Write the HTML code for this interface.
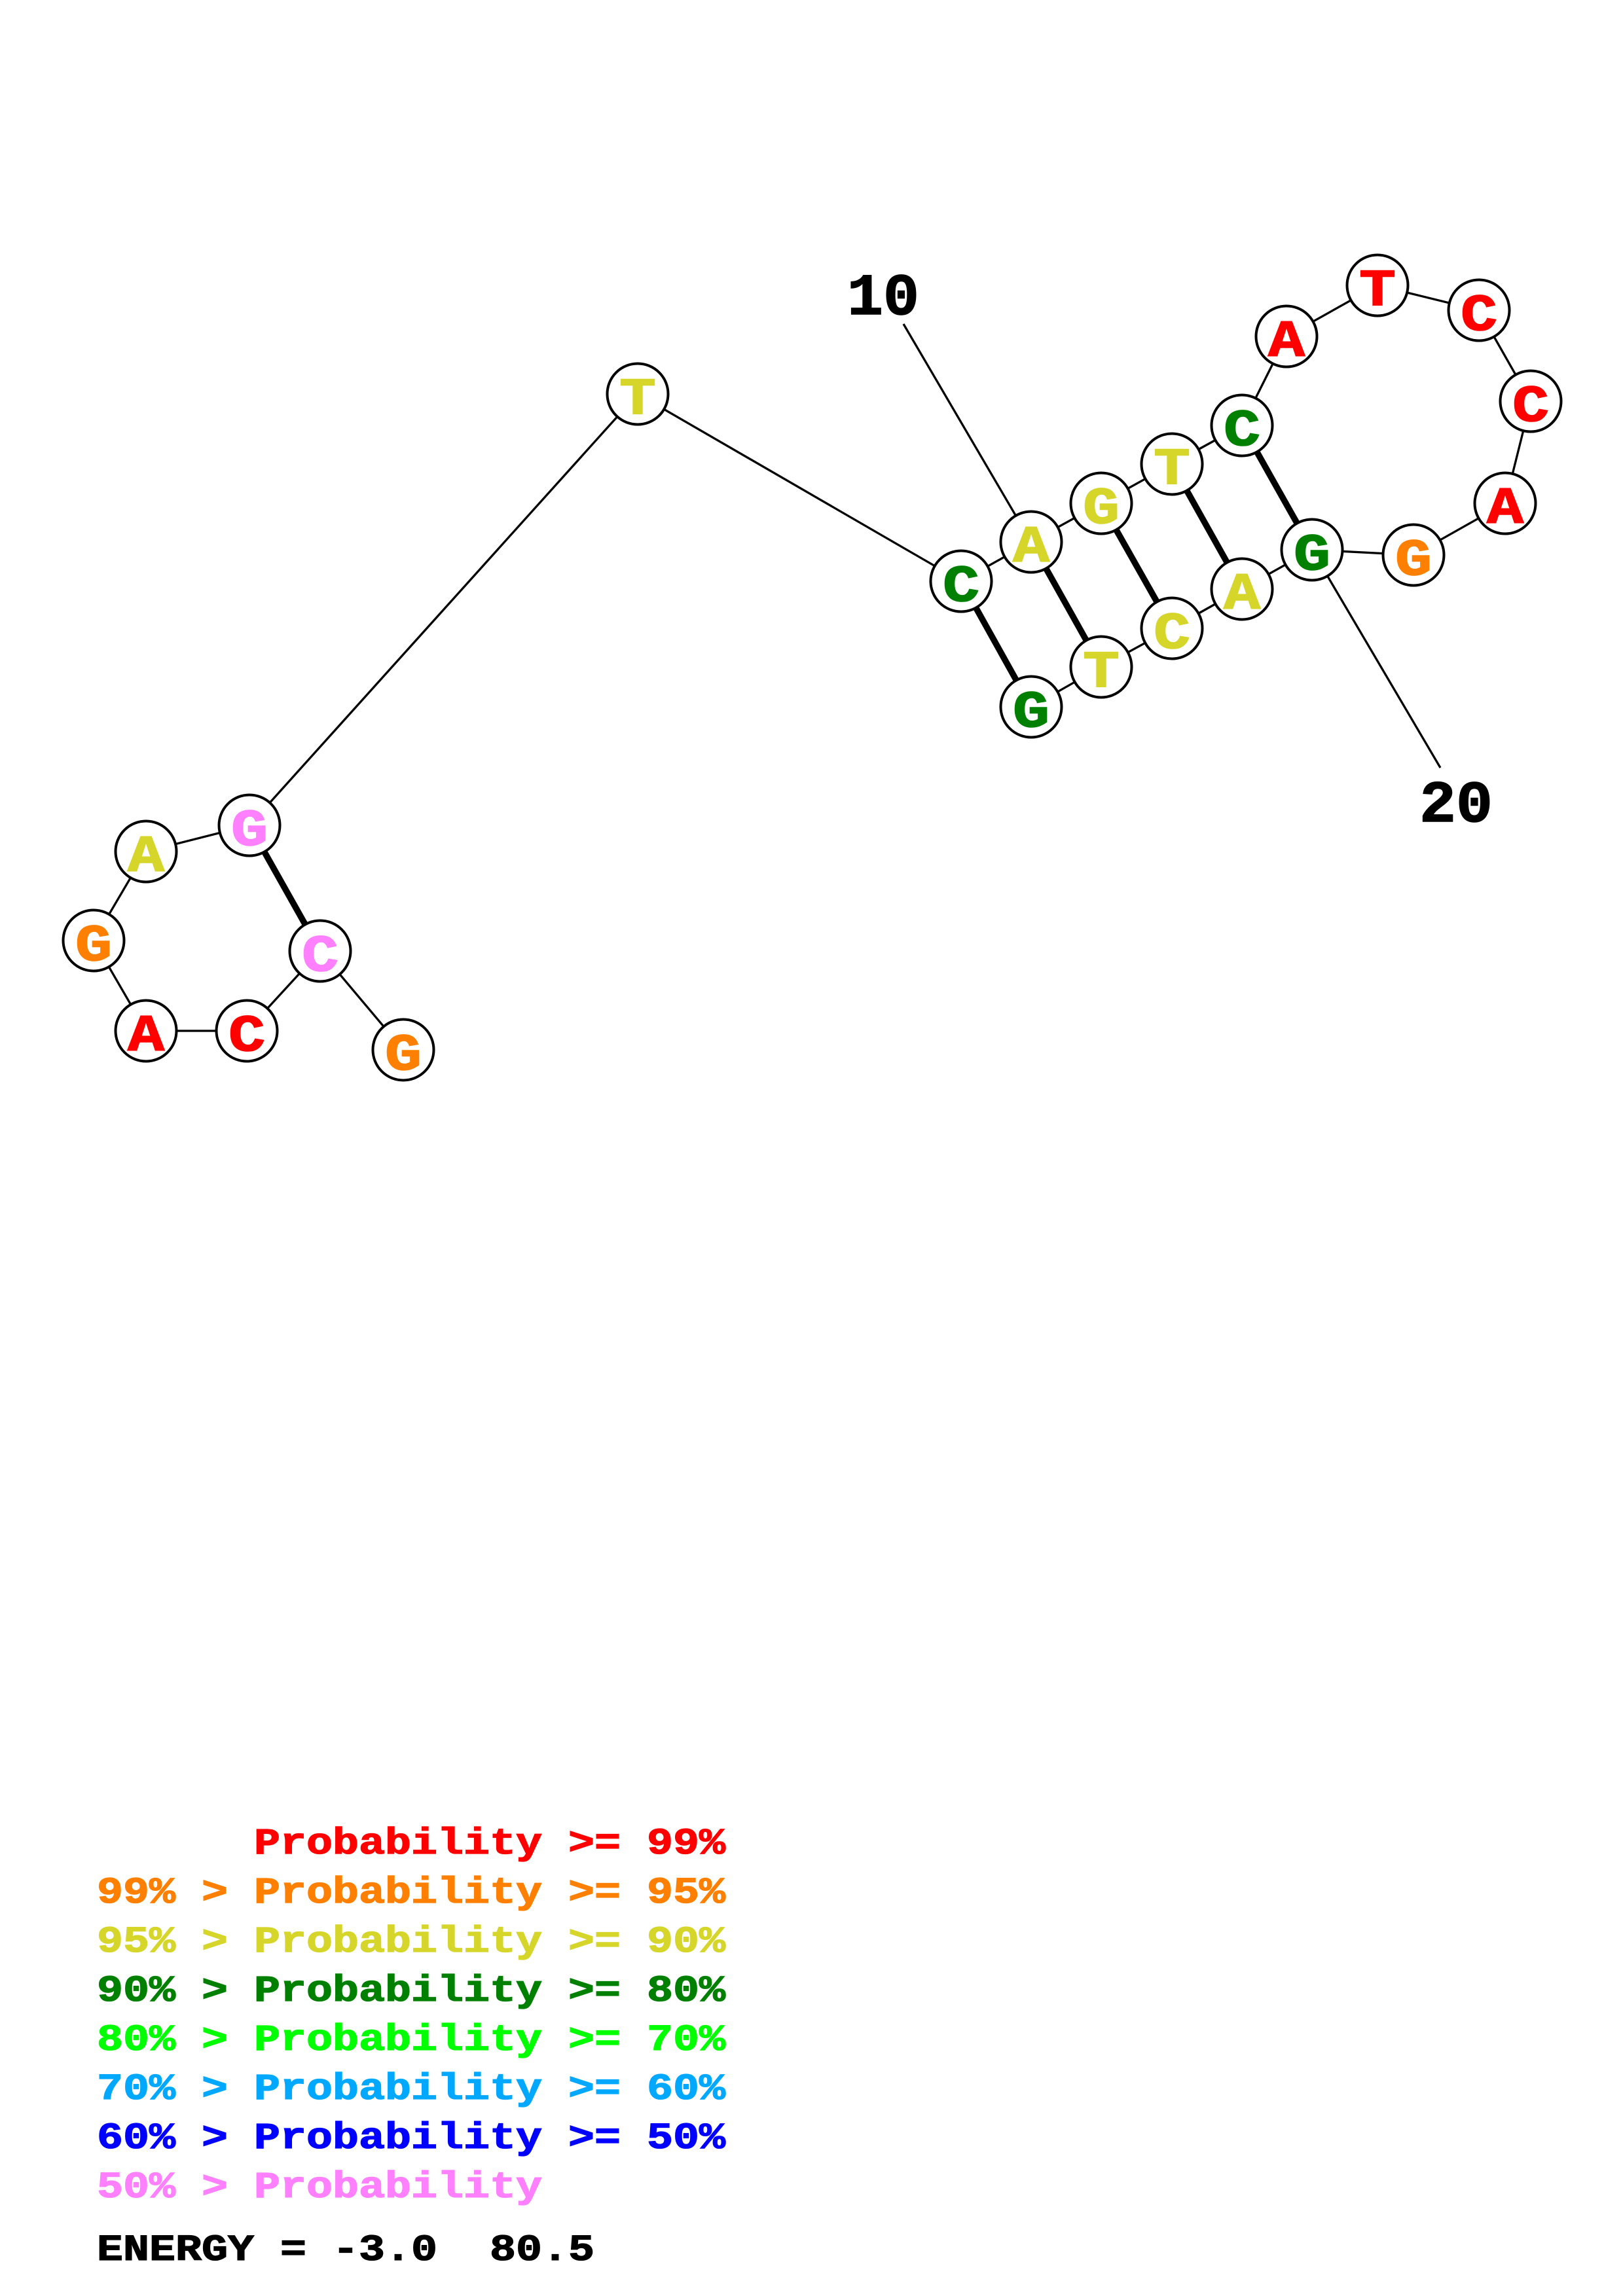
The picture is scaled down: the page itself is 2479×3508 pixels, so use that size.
<!DOCTYPE html>
<html>
<head>
<meta charset="utf-8">
<style>
  html,body{margin:0;padding:0;background:#fff;}
  svg{display:block;}
  .nt{font-family:"Liberation Mono","DejaVu Sans Mono",monospace;font-weight:bold;font-size:80px;stroke-width:1.6px;}
  .num{font-family:"Liberation Mono","DejaVu Sans Mono",monospace;font-weight:bold;font-size:90px;fill:#000;stroke:#000;stroke-width:1.5px;}
  .lg{font-family:"Liberation Mono","DejaVu Sans Mono",monospace;font-weight:bold;font-size:57px;stroke-width:1.3px;}
</style>
</head>
<body>
<svg width="2479" height="3508" viewBox="0 0 2479 3508" xmlns="http://www.w3.org/2000/svg">
  <rect x="0" y="0" width="2479" height="3508" fill="#fff"/>

  <!-- number label lines -->
  <g stroke="#000" stroke-width="3.3" fill="none">
    <line x1="1380" y1="495" x2="1575" y2="828"/>
    <line x1="2004" y1="840" x2="2200" y2="1173"/>
  </g>

  <!-- backbone thin lines -->
  <g stroke="#000" stroke-width="3.3" fill="none">
    <polyline points="616,1604 489,1453 377,1575 223,1575 143,1437 223,1301 381,1261 974,602 1468,888 1575,828 1682,769 1790,709 1897,650 1965,514 2104,436 2259,474 2338,613 2299,769 2159,848 2004,840 1897,900 1790,960 1682,1019 1575,1080"/>
  </g>

  <!-- base pair thick lines -->
  <g stroke="#000" stroke-width="9.5" fill="none">
    <line x1="489" y1="1453" x2="381" y2="1261"/>
    <line x1="1468" y1="888" x2="1575" y2="1080"/>
    <line x1="1575" y1="828" x2="1682" y2="1019"/>
    <line x1="1682" y1="769" x2="1790" y2="960"/>
    <line x1="1790" y1="709" x2="1897" y2="900"/>
    <line x1="1897" y1="650" x2="2004" y2="840"/>
  </g>

  <!-- nodes -->
  <g stroke="#000" stroke-width="4" fill="#fff">
    <circle cx="616" cy="1604" r="46.5"/>
    <circle cx="489" cy="1453" r="46.5"/>
    <circle cx="377" cy="1575" r="46.5"/>
    <circle cx="223" cy="1575" r="46.5"/>
    <circle cx="143" cy="1437" r="46.5"/>
    <circle cx="223" cy="1301" r="46.5"/>
    <circle cx="381" cy="1261" r="46.5"/>
    <circle cx="974" cy="602" r="46.5"/>
    <circle cx="1468" cy="888" r="46.5"/>
    <circle cx="1575" cy="828" r="46.5"/>
    <circle cx="1682" cy="769" r="46.5"/>
    <circle cx="1790" cy="709" r="46.5"/>
    <circle cx="1897" cy="650" r="46.5"/>
    <circle cx="1965" cy="514" r="46.5"/>
    <circle cx="2104" cy="436" r="46.5"/>
    <circle cx="2259" cy="474" r="46.5"/>
    <circle cx="2338" cy="613" r="46.5"/>
    <circle cx="2299" cy="769" r="46.5"/>
    <circle cx="2159" cy="848" r="46.5"/>
    <circle cx="2004" cy="840" r="46.5"/>
    <circle cx="1897" cy="900" r="46.5"/>
    <circle cx="1790" cy="960" r="46.5"/>
    <circle cx="1682" cy="1019" r="46.5"/>
    <circle cx="1575" cy="1080" r="46.5"/>
  </g>

  <!-- nucleotide letters (x = cx - 28, width 56) -->
  <g class="nt">
    <text x="588" y="1634" textLength="56" lengthAdjust="spacingAndGlyphs" fill="#FF8000" stroke="#FF8000">G</text>
    <text x="461" y="1483" textLength="56" lengthAdjust="spacingAndGlyphs" fill="#FF80FF" stroke="#FF80FF">C</text>
    <text x="349" y="1605" textLength="56" lengthAdjust="spacingAndGlyphs" fill="#FF0000" stroke="#FF0000">C</text>
    <text x="195" y="1605" textLength="56" lengthAdjust="spacingAndGlyphs" fill="#FF0000" stroke="#FF0000">A</text>
    <text x="115" y="1467" textLength="56" lengthAdjust="spacingAndGlyphs" fill="#FF8000" stroke="#FF8000">G</text>
    <text x="195" y="1331" textLength="56" lengthAdjust="spacingAndGlyphs" fill="#D5D52A" stroke="#D5D52A">A</text>
    <text x="353" y="1291" textLength="56" lengthAdjust="spacingAndGlyphs" fill="#FF80FF" stroke="#FF80FF">G</text>
    <text x="946" y="632" textLength="56" lengthAdjust="spacingAndGlyphs" fill="#D5D52A" stroke="#D5D52A">T</text>
    <text x="1440" y="918" textLength="56" lengthAdjust="spacingAndGlyphs" fill="#008000" stroke="#008000">C</text>
    <text x="1547" y="858" textLength="56" lengthAdjust="spacingAndGlyphs" fill="#D5D52A" stroke="#D5D52A">A</text>
    <text x="1654" y="799" textLength="56" lengthAdjust="spacingAndGlyphs" fill="#D5D52A" stroke="#D5D52A">G</text>
    <text x="1762" y="739" textLength="56" lengthAdjust="spacingAndGlyphs" fill="#D5D52A" stroke="#D5D52A">T</text>
    <text x="1869" y="680" textLength="56" lengthAdjust="spacingAndGlyphs" fill="#008000" stroke="#008000">C</text>
    <text x="1937" y="544" textLength="56" lengthAdjust="spacingAndGlyphs" fill="#FF0000" stroke="#FF0000">A</text>
    <text x="2076" y="466" textLength="56" lengthAdjust="spacingAndGlyphs" fill="#FF0000" stroke="#FF0000">T</text>
    <text x="2231" y="504" textLength="56" lengthAdjust="spacingAndGlyphs" fill="#FF0000" stroke="#FF0000">C</text>
    <text x="2310" y="643" textLength="56" lengthAdjust="spacingAndGlyphs" fill="#FF0000" stroke="#FF0000">C</text>
    <text x="2271" y="799" textLength="56" lengthAdjust="spacingAndGlyphs" fill="#FF0000" stroke="#FF0000">A</text>
    <text x="2131" y="878" textLength="56" lengthAdjust="spacingAndGlyphs" fill="#FF8000" stroke="#FF8000">G</text>
    <text x="1976" y="870" textLength="56" lengthAdjust="spacingAndGlyphs" fill="#008000" stroke="#008000">G</text>
    <text x="1869" y="930" textLength="56" lengthAdjust="spacingAndGlyphs" fill="#D5D52A" stroke="#D5D52A">A</text>
    <text x="1762" y="990" textLength="56" lengthAdjust="spacingAndGlyphs" fill="#D5D52A" stroke="#D5D52A">C</text>
    <text x="1654" y="1049" textLength="56" lengthAdjust="spacingAndGlyphs" fill="#D5D52A" stroke="#D5D52A">T</text>
    <text x="1547" y="1110" textLength="56" lengthAdjust="spacingAndGlyphs" fill="#008000" stroke="#008000">G</text>
  </g>

  <!-- number labels -->
  <text class="num" x="1294" y="480" textLength="110" lengthAdjust="spacingAndGlyphs">10</text>
  <text class="num" x="2168" y="1255" textLength="112" lengthAdjust="spacingAndGlyphs">20</text>

  <!-- legend -->
  <g class="lg">
    <!-- row 1 -->
    <g fill="#FF0000" stroke="#FF0000">
      <text x="388" y="2832" textLength="440" lengthAdjust="spacingAndGlyphs">Probability</text>
      <text x="868" y="2832" textLength="80" lengthAdjust="spacingAndGlyphs">&gt;=</text>
      <text x="988" y="2832" textLength="120" lengthAdjust="spacingAndGlyphs">99%</text>
    </g>
    <!-- row 2 -->
    <g fill="#FF8000" stroke="#FF8000">
      <text x="148" y="2907" textLength="120" lengthAdjust="spacingAndGlyphs">99%</text>
      <text x="308" y="2907" textLength="40" lengthAdjust="spacingAndGlyphs">&gt;</text>
      <text x="388" y="2907" textLength="440" lengthAdjust="spacingAndGlyphs">Probability</text>
      <text x="868" y="2907" textLength="80" lengthAdjust="spacingAndGlyphs">&gt;=</text>
      <text x="988" y="2907" textLength="120" lengthAdjust="spacingAndGlyphs">95%</text>
    </g>
    <!-- row 3 -->
    <g fill="#D5D52A" stroke="#D5D52A">
      <text x="148" y="2982" textLength="120" lengthAdjust="spacingAndGlyphs">95%</text>
      <text x="308" y="2982" textLength="40" lengthAdjust="spacingAndGlyphs">&gt;</text>
      <text x="388" y="2982" textLength="440" lengthAdjust="spacingAndGlyphs">Probability</text>
      <text x="868" y="2982" textLength="80" lengthAdjust="spacingAndGlyphs">&gt;=</text>
      <text x="988" y="2982" textLength="120" lengthAdjust="spacingAndGlyphs">90%</text>
    </g>
    <!-- row 4 -->
    <g fill="#008000" stroke="#008000">
      <text x="148" y="3057" textLength="120" lengthAdjust="spacingAndGlyphs">90%</text>
      <text x="308" y="3057" textLength="40" lengthAdjust="spacingAndGlyphs">&gt;</text>
      <text x="388" y="3057" textLength="440" lengthAdjust="spacingAndGlyphs">Probability</text>
      <text x="868" y="3057" textLength="80" lengthAdjust="spacingAndGlyphs">&gt;=</text>
      <text x="988" y="3057" textLength="120" lengthAdjust="spacingAndGlyphs">80%</text>
    </g>
    <!-- row 5 -->
    <g fill="#00FF00" stroke="#00FF00">
      <text x="148" y="3132" textLength="120" lengthAdjust="spacingAndGlyphs">80%</text>
      <text x="308" y="3132" textLength="40" lengthAdjust="spacingAndGlyphs">&gt;</text>
      <text x="388" y="3132" textLength="440" lengthAdjust="spacingAndGlyphs">Probability</text>
      <text x="868" y="3132" textLength="80" lengthAdjust="spacingAndGlyphs">&gt;=</text>
      <text x="988" y="3132" textLength="120" lengthAdjust="spacingAndGlyphs">70%</text>
    </g>
    <!-- row 6 -->
    <g fill="#00A8FF" stroke="#00A8FF">
      <text x="148" y="3207" textLength="120" lengthAdjust="spacingAndGlyphs">70%</text>
      <text x="308" y="3207" textLength="40" lengthAdjust="spacingAndGlyphs">&gt;</text>
      <text x="388" y="3207" textLength="440" lengthAdjust="spacingAndGlyphs">Probability</text>
      <text x="868" y="3207" textLength="80" lengthAdjust="spacingAndGlyphs">&gt;=</text>
      <text x="988" y="3207" textLength="120" lengthAdjust="spacingAndGlyphs">60%</text>
    </g>
    <!-- row 7 -->
    <g fill="#0000FF" stroke="#0000FF">
      <text x="148" y="3282" textLength="120" lengthAdjust="spacingAndGlyphs">60%</text>
      <text x="308" y="3282" textLength="40" lengthAdjust="spacingAndGlyphs">&gt;</text>
      <text x="388" y="3282" textLength="440" lengthAdjust="spacingAndGlyphs">Probability</text>
      <text x="868" y="3282" textLength="80" lengthAdjust="spacingAndGlyphs">&gt;=</text>
      <text x="988" y="3282" textLength="120" lengthAdjust="spacingAndGlyphs">50%</text>
    </g>
    <!-- row 8 -->
    <g fill="#FF80FF" stroke="#FF80FF">
      <text x="148" y="3357" textLength="120" lengthAdjust="spacingAndGlyphs">50%</text>
      <text x="308" y="3357" textLength="40" lengthAdjust="spacingAndGlyphs">&gt;</text>
      <text x="388" y="3357" textLength="440" lengthAdjust="spacingAndGlyphs">Probability</text>
    </g>
    <!-- energy -->
    <g fill="#000" stroke="#000">
      <text x="148" y="3453" textLength="240" lengthAdjust="spacingAndGlyphs">ENERGY</text>
      <text x="428" y="3453" textLength="40" lengthAdjust="spacingAndGlyphs">=</text>
      <text x="508" y="3453" textLength="160" lengthAdjust="spacingAndGlyphs">-3.0</text>
      <text x="748" y="3453" textLength="160" lengthAdjust="spacingAndGlyphs">80.5</text>
    </g>
  </g>
</svg>
</body>
</html>
